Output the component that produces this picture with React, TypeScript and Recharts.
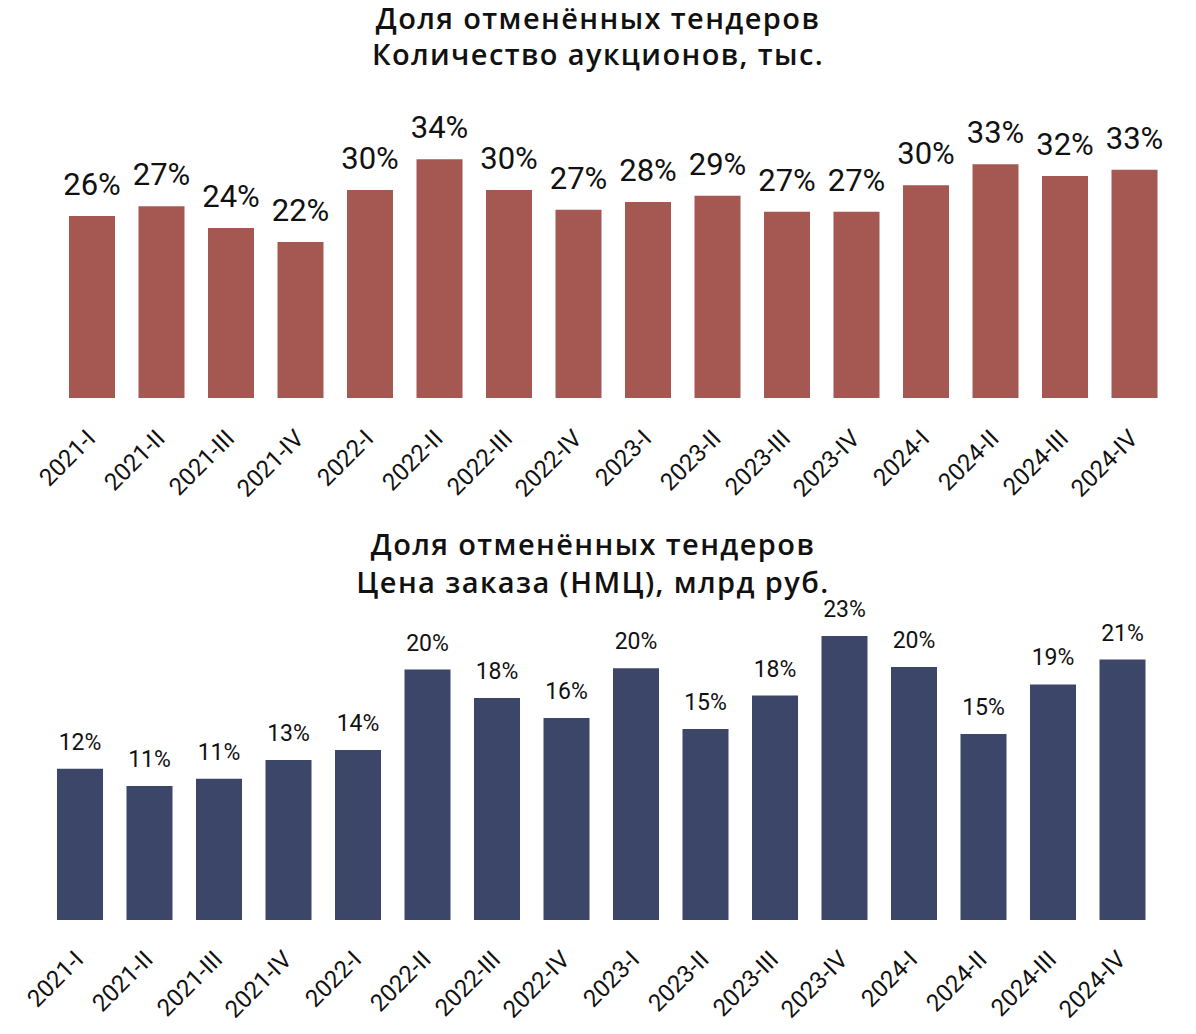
import { BarChart, Bar, XAxis, YAxis, LabelList } from "recharts";

const quarters = [
  "2021-I", "2021-II", "2021-III", "2021-IV",
  "2022-I", "2022-II", "2022-III", "2022-IV",
  "2023-I", "2023-II", "2023-III", "2023-IV",
  "2024-I", "2024-II", "2024-III", "2024-IV",
];

// доля отменённых тендеров по количеству аукционов, %
const auctionShare = [26.0, 27.4, 24.3, 22.3, 29.7, 34.1, 29.7, 26.9, 28.0, 28.9, 26.6, 26.6, 30.4, 33.4, 31.7, 32.6];

// доля отменённых тендеров по НМЦ, %
const priceShare = [12.2, 10.8, 11.4, 12.9, 13.7, 20.2, 17.9, 16.3, 20.3, 15.4, 18.1, 22.9, 20.4, 15.0, 19.0, 21.0];

const topTitle = ["Доля отменённых тендеров", "Количество аукционов, тыс."];
const bottomTitle = ["Доля отменённых тендеров", "Цена заказа (НМЦ), млрд руб."];

const auctionData = quarters.map((q, i) => ({ quarter: q, value: auctionShare[i] }));
const priceData = quarters.map((q, i) => ({ quarter: q, value: priceShare[i] }));

const FONT = "Roboto, 'Open Sans', sans-serif";
const TITLE_FONT = "'Open Sans', Roboto, sans-serif";

function QuarterTick(props: any) {
  const { x, y, payload, dy } = props;
  return (
    <g transform={`translate(${x + 5},${y + dy})`}>
      <text textAnchor="end" transform="rotate(-45)" fontSize={24} fontFamily={FONT} fill="#111">
        {payload.value}
      </text>
    </g>
  );
}

const pct = (v: unknown) => (typeof v === "number" ? `${Math.round(v)}%` : "");

export default function App() {
  return (
    <div style={{ position: "absolute", left: 0, top: 0, width: 1196, height: 1034, background: "#fff" }}>
      {/* === Titles === */}
      <svg width={1196} height={1034} style={{ position: "absolute", left: 0, top: 0, pointerEvents: "none" }}>
        <g fontFamily={TITLE_FONT} fontWeight={600} fontSize={29} letterSpacing={1.4} fill="#111" textAnchor="middle">
          <text x={598} y={29}>{topTitle[0]}</text>
          <text x={598} y={65}>{topTitle[1]}</text>
          <text x={593} y={555}>{bottomTitle[0]}</text>
          <text x={593} y={593}>{bottomTitle[1]}</text>
        </g>
      </svg>

      {/* === Top chart === */}
      <div style={{ position: "absolute", left: 0, top: 0 }}>
        <BarChart width={1196} height={520} data={auctionData} margin={{ top: 118, right: 27, left: 57, bottom: 0 }}>
          <XAxis
            dataKey="quarter"
            interval={0}
            axisLine={false}
            tickLine={false}
            tickSize={0}
            tickMargin={0}
            height={122}
            tick={(p: any) => <QuarterTick {...p} dy={42} />}
          />
          <YAxis hide domain={[0, 40]} />
          <Bar dataKey="value" fill="#A55752" barSize={46} isAnimationActive={false}>
            <LabelList
              dataKey="value"
              position="top"
              offset={21}
              formatter={pct}
              style={{ fontSize: 31, fill: "#111", fontFamily: FONT }}
            />
          </Bar>
        </BarChart>
      </div>

      {/* === Bottom chart === */}
      <div style={{ position: "absolute", left: 0, top: 520 }}>
        <BarChart width={1196} height={514} data={priceData} margin={{ top: 90, right: 39, left: 45, bottom: 0 }}>
          <XAxis
            dataKey="quarter"
            interval={0}
            axisLine={false}
            tickLine={false}
            tickSize={0}
            tickMargin={0}
            height={114}
            tick={(p: any) => <QuarterTick {...p} dy={41} />}
          />
          <YAxis hide domain={[0, 25]} />
          <Bar dataKey="value" fill="#3B4669" barSize={46} isAnimationActive={false}>
            <LabelList
              dataKey="value"
              position="top"
              offset={19}
              formatter={pct}
              style={{ fontSize: 23, fill: "#111", fontFamily: FONT }}
            />
          </Bar>
        </BarChart>
      </div>
    </div>
  );
}
